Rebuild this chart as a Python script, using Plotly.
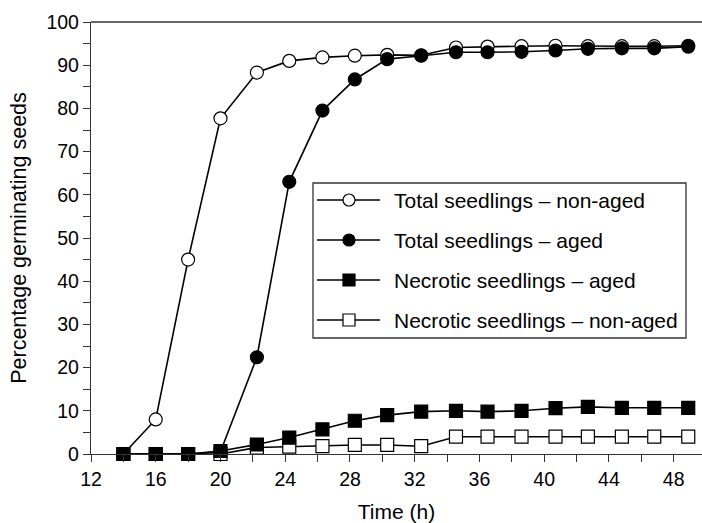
import plotly.graph_objects as go

time_h = [14, 16, 18, 20, 22.25, 24.25, 26.3, 28.3, 30.3, 32.4, 34.55, 36.5, 38.6, 40.7, 42.7, 44.8, 46.8, 48.9]
total_nonaged = [0, 8, 45, 77.7, 88.3, 91.0, 91.8, 92.2, 92.4, 92.3, 94.1, 94.3, 94.4, 94.5, 94.4, 94.4, 94.4, 94.5]
total_aged = [0, 0, 0, 0.5, 22.4, 63.0, 79.5, 86.7, 91.4, 92.2, 93.0, 93.0, 93.1, 93.4, 93.8, 93.9, 93.9, 94.3]
necro_aged = [0, 0, 0, 0.7, 2.2, 3.8, 5.7, 7.7, 9.0, 9.8, 10.0, 9.8, 10.0, 10.6, 10.9, 10.7, 10.7, 10.7]
necro_nonaged = [0, 0, 0, 0, 1.5, 1.7, 1.8, 2.1, 2.1, 1.8, 4.0, 4.0, 4.0, 4.0, 4.0, 4.0, 4.0, 4.0]

legend_labels = [
    "Total seedlings – non-aged",
    "Total seedlings – aged",
    "Necrotic seedlings – aged",
    "Necrotic seedlings – non-aged",
]

FONT = "Liberation Sans, Arial, Helvetica, sans-serif"
W, H = 702, 523
L, R, T, B = 91, 0, 22, 69

styles = {
    "Total seedlings – non-aged": ("circle", "white"),
    "Total seedlings – aged": ("circle", "black"),
    "Necrotic seedlings – aged": ("square", "black"),
    "Necrotic seedlings – non-aged": ("square", "white"),
}
data = {
    "Total seedlings – non-aged": total_nonaged,
    "Total seedlings – aged": total_aged,
    "Necrotic seedlings – non-aged": necro_nonaged,
    "Necrotic seedlings – aged": necro_aged,
}

fig = go.Figure()
# drawing order: filled squares on top
for name in ["Total seedlings – non-aged", "Total seedlings – aged",
             "Necrotic seedlings – non-aged", "Necrotic seedlings – aged"]:
    sym, fill = styles[name]
    fig.add_trace(go.Scatter(
        x=time_h, y=data[name], name=name, mode="lines+markers",
        line=dict(color="black", width=1.6),
        marker=dict(symbol=sym, size=13, color=fill, line=dict(color="black", width=1.2)),
        cliponaxis=False, showlegend=False,
    ))

# custom legend on a pixel-coordinate overlay axis
box = dict(x0=313, x1=686, y0=183, y1=338)
rows_y = [200, 240, 280, 320]
for lab, ry in zip(legend_labels, rows_y):
    sym, fill = styles[lab]
    fig.add_trace(go.Scatter(
        x=[317, 380], y=[ry, ry], xaxis="x2", yaxis="y2", mode="lines",
        line=dict(color="black", width=1.6), showlegend=False, hoverinfo="skip",
    ))
    fig.add_trace(go.Scatter(
        x=[349], y=[ry], xaxis="x2", yaxis="y2", mode="markers",
        marker=dict(symbol=sym, size=12, color=fill, line=dict(color="black", width=1.2)),
        showlegend=False, hoverinfo="skip",
    ))
    fig.add_annotation(x=392, y=ry, xref="x2", yref="y2", text=lab, showarrow=False,
                       xanchor="left", yanchor="middle", font=dict(size=21, family=FONT))

fig.update_layout(
    width=W, height=H,
    margin=dict(l=L, r=R, t=T, b=B),
    paper_bgcolor="white", plot_bgcolor="white",
    font=dict(family=FONT, size=19.5, color="black"),
    showlegend=False,
    xaxis=dict(
        range=[12, 49.75], tick0=12, dtick=4, showgrid=False, zeroline=False,
        showline=True, linecolor="#333", linewidth=1.3,
        ticks="outside", ticklen=7, tickwidth=1.3, tickcolor="#333",
        minor=dict(dtick=2, ticks="outside", ticklen=7, tickwidth=1.3, tickcolor="#333"),
        title=dict(text="Time (h)", standoff=15, font=dict(size=21)),
    ),
    yaxis=dict(
        range=[0, 100], dtick=10, showgrid=False, zeroline=False,
        showline=True, linecolor="#333", linewidth=1.3,
        ticks="outside", ticklen=7, tickwidth=1.3, tickcolor="#333",
        minor=dict(dtick=5, ticks="outside", ticklen=7, tickwidth=1.3, tickcolor="#333"),
        title=dict(text="Percentage germinating seeds", standoff=13, font=dict(size=21.5)),
    ),
    xaxis2=dict(overlaying="x", range=[L, W - R], visible=False, fixedrange=True),
    yaxis2=dict(overlaying="y", range=[H - B, T], visible=False, fixedrange=True),
    shapes=[
        dict(type="line", xref="paper", yref="paper", x0=0, x1=1, y0=1, y1=1,
             line=dict(color="#333", width=1.3)),
        dict(type="rect", xref="x2", yref="y2", layer="below", fillcolor="white",
             line=dict(color="#333", width=1.3), **box),
    ],
)

fig.write_html("out.html")
